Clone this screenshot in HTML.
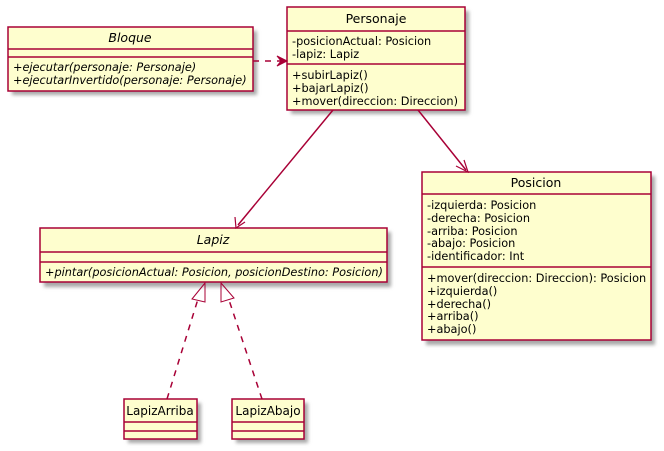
<!DOCTYPE html>
<html><head><meta charset="utf-8"><style>
html,body{margin:0;padding:0;background:#fff;}
svg{display:block;}
text{font-family:"DejaVu Sans","Liberation Sans",sans-serif;fill:#000;}
.t{font-size:12.5px;}
.m{font-size:11.3px;}
.i{font-style:italic;}
.b{fill:#FEFECE;stroke:#A80036;stroke-width:1.5;}
.l{stroke:#A80036;stroke-width:1.5;}
</style></head><body>
<svg width="664" height="451" viewBox="0 0 664 451" xmlns="http://www.w3.org/2000/svg">
<defs><filter id="f" x="-10%" y="-10%" width="130%" height="130%"><feGaussianBlur stdDeviation="1.8"/></filter></defs>
<g filter="url(#f)" fill="#a8a8a8">
<rect x="12" y="31" width="245" height="64"/>
<rect x="291" y="11" width="178" height="103"/>
<rect x="426" y="176" width="229" height="169"/>
<rect x="44" y="232" width="347" height="55"/>
<rect x="128" y="403" width="73" height="40"/>
<rect x="236" y="403" width="72" height="40"/>
</g>
<rect class="b" x="8" y="27" width="245" height="64"/>
<line class="l" x1="8" y1="49" x2="253" y2="49"/>
<line class="l" x1="8" y1="57" x2="253" y2="57"/>
<text class="t i" x="130" y="42" text-anchor="middle">Bloque</text>
<text class="m i" x="13" y="71">+ejecutar(personaje: Personaje)</text>
<text class="m i" x="13" y="84">+ejecutarInvertido(personaje: Personaje)</text>
<rect class="b" x="287" y="7" width="178" height="103"/>
<line class="l" x1="287" y1="31" x2="465" y2="31"/>
<line class="l" x1="287" y1="64" x2="465" y2="64"/>
<text class="t" x="376" y="23" text-anchor="middle">Personaje</text>
<text class="m" x="292" y="45">-posicionActual: Posicion</text>
<text class="m" x="292" y="58">-lapiz: Lapiz</text>
<text class="m" x="292" y="79">+subirLapiz()</text>
<text class="m" x="292" y="92">+bajarLapiz()</text>
<text class="m" x="292" y="105">+mover(direccion: Direccion)</text>
<rect class="b" x="422" y="172" width="229" height="168"/>
<line class="l" x1="422" y1="194" x2="651" y2="194"/>
<line class="l" x1="422" y1="267" x2="651" y2="267"/>
<text class="t" x="536" y="187" text-anchor="middle">Posicion</text>
<text class="m" x="427" y="209">-izquierda: Posicion</text>
<text class="m" x="427" y="222">-derecha: Posicion</text>
<text class="m" x="427" y="235">-arriba: Posicion</text>
<text class="m" x="427" y="247">-abajo: Posicion</text>
<text class="m" x="427" y="260">-identificador: Int</text>
<text class="m" x="427" y="282">+mover(direccion: Direccion): Posicion</text>
<text class="m" x="427" y="295">+izquierda()</text>
<text class="m" x="427" y="308">+derecha()</text>
<text class="m" x="427" y="320">+arriba()</text>
<text class="m" x="427" y="333">+abajo()</text>
<rect class="b" x="40" y="228" width="347" height="54"/>
<line class="l" x1="40" y1="252" x2="387" y2="252"/>
<line class="l" x1="40" y1="262" x2="387" y2="262"/>
<text class="t i" x="213" y="244" text-anchor="middle">Lapiz</text>
<text class="m i" x="45" y="276">+pintar(posicionActual: Posicion, posicionDestino: Posicion)</text>
<rect class="b" x="124" y="399" width="73" height="40"/>
<line class="l" x1="124" y1="422" x2="197" y2="422"/>
<line class="l" x1="124" y1="431" x2="197" y2="431"/>
<text class="t" x="160" y="415" text-anchor="middle" style="font-size:12px">LapizArriba</text>
<rect class="b" x="232" y="399" width="72" height="40"/>
<line class="l" x1="232" y1="422" x2="304" y2="422"/>
<line class="l" x1="232" y1="431" x2="304" y2="431"/>
<text class="t" x="268" y="415" text-anchor="middle" style="font-size:12px">LapizAbajo</text>
<line class="l" x1="253" y1="61" x2="283" y2="61" stroke-dasharray="6,6" stroke-width="1"/>
<polygon points="287,61 277,56 281,61 277,66" fill="#A80036" stroke="#A80036"/>
<line class="l" x1="333" y1="110" x2="238" y2="225" stroke-width="1"/>
<polyline points="235,217 236,228 245,222" fill="none" stroke="#A80036" stroke-width="1.2"/>
<line class="l" x1="418" y1="110" x2="466" y2="170" stroke-width="1"/>
<polyline points="456,166 468,172 464,160" fill="none" stroke="#A80036" stroke-width="1.2"/>
<line class="l" x1="167" y1="399" x2="198" y2="299" stroke-dasharray="6,6" stroke-width="1"/>
<polygon points="205,283 192,299 205,302" fill="none" stroke="#A80036" stroke-width="1"/>
<line class="l" x1="262" y1="399" x2="229" y2="300" stroke-dasharray="6,6" stroke-width="1"/>
<polygon points="221,283 221,302 234,298" fill="none" stroke="#A80036" stroke-width="1"/>
</svg>
</body></html>
